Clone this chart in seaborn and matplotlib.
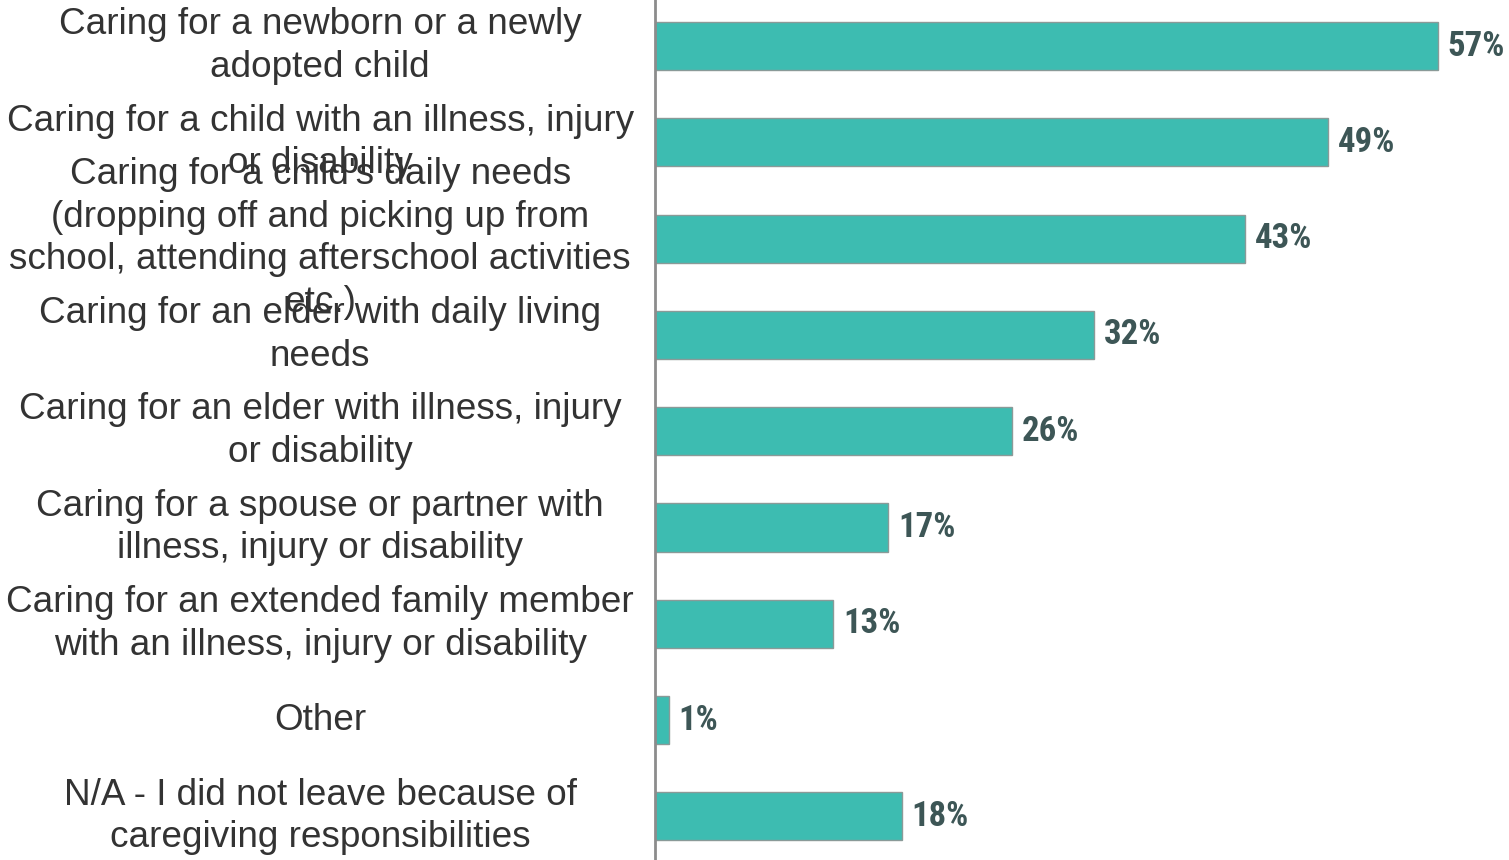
import matplotlib
matplotlib.use("Agg")
import matplotlib.pyplot as plt
import seaborn as sns
import pandas as pd

categories = [
    "Caring for a newborn or a newly\nadopted child",
    "Caring for a child with an illness, injury\nor disability",
    "Caring for a child's daily needs\n(dropping off and picking up from\nschool, attending afterschool activities\netc.)",
    "Caring for an elder with daily living\nneeds",
    "Caring for an elder with illness, injury\nor disability",
    "Caring for a spouse or partner with\nillness, injury or disability",
    "Caring for an extended family member\nwith an illness, injury or disability",
    "Other",
    "N/A - I did not leave because of\ncaregiving responsibilities",
]
percentages = [57, 49, 43, 32, 26, 17, 13, 1, 18]

BAR_COLOR = "#3dbcb1"
LABEL_COLOR = "#333333"
VALUE_COLOR = "#3d5656"

sns.set_theme(style="white")
plt.rcParams["font.family"] = ["Liberation Sans", "DejaVu Sans"]

df = pd.DataFrame({"reason": categories, "pct": percentages})

fig = plt.figure(figsize=(15.09, 8.60), dpi=100)
ax = fig.add_axes([655 / 1509, 0.0, 1 - 655 / 1509, 1.0])

sns.barplot(data=df, x="pct", y="reason", orient="h", color=BAR_COLOR,
            saturation=1, width=0.5, edgecolor="#8a9a98", linewidth=1.0, ax=ax)

ax.set_xlim(0, 62.2)
ax.set_ylim(8.453, -0.478)
ax.set_xlabel("")
ax.set_ylabel("")
ax.set_xticks([])

for s in ["top", "right", "bottom"]:
    ax.spines[s].set_visible(False)
ax.spines["left"].set_color("#8c8c8c")
ax.spines["left"].set_linewidth(2.0)

# category labels centred in the left margin
ax.tick_params(axis="y", length=0, pad=241)
for lbl in ax.get_yticklabels():
    lbl.set_horizontalalignment("center")
    lbl.set_verticalalignment("center")
    lbl.set_multialignment("center")
    lbl.set_fontsize(26.6)
    lbl.set_color(LABEL_COLOR)
    lbl.set_linespacing(1.28)

# value labels at the end of each bar
for bar, v in zip(ax.patches, percentages):
    y = bar.get_y() + bar.get_height() / 2
    ax.text(bar.get_width() + 0.7, y, f"{v}%", va="center", ha="left",
            fontsize=25, fontweight="bold", color=VALUE_COLOR,
            family=["Liberation Sans Narrow", "Roboto Condensed",
                    "Archivo Narrow", "Liberation Sans", "DejaVu Sans"])

fig.savefig("out.png", dpi=100)
